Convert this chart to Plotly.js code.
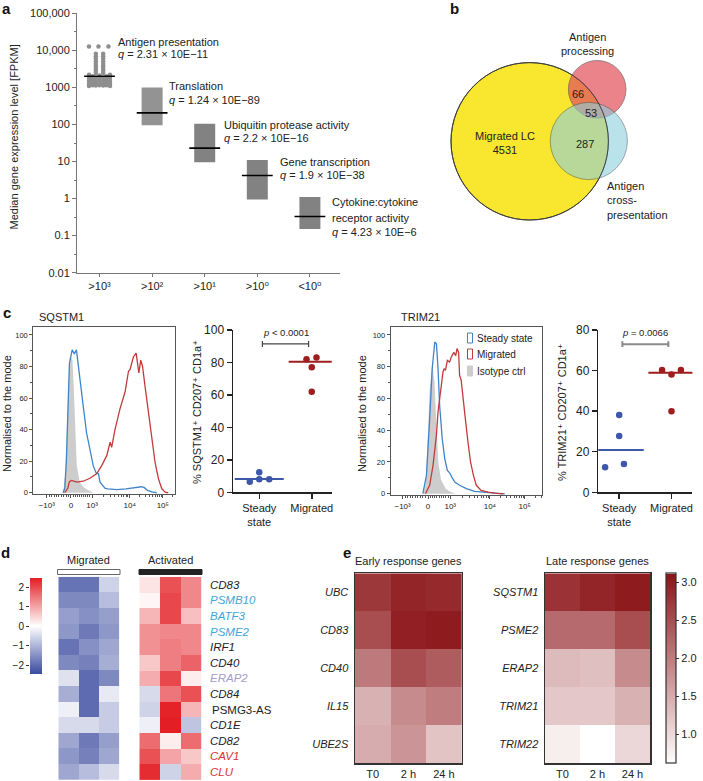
<!DOCTYPE html>
<html><head><meta charset="utf-8">
<script src="https://cdn.plot.ly/plotly-3.0.1.min.js"></script>
<style>html,body{margin:0;padding:0;background:#fff}#chart{width:703px;height:781px}</style>
</head><body><div id="chart"></div>
<script>
// ================= DATA =================
// ---- Panel a ----
const aCategories = ['>10³','>10²','>10¹','>10⁰','<10⁰'];
const aTerms = ['Antigen presentation','Translation','Ubiquitin protease activity','Gene transcription','Cytokine:cytokine<br>receptor activity'];
const aQ = ['2.31 × 10E−11','1.24 × 10E−89','2.2 × 10E−16','1.9 × 10E−38','4.23 × 10E−6'];
const aMedian = [2000, 205, 23, 4.2, 0.33];
const aLow  = [null, 96, 9.5, 0.95, 0.15];
const aHigh = [null, 1000, 105, 11, 1.1];
// individual genes of "Antigen presentation" (jitter index, FPKM)
const apJitter = [-0.2,-0.02,0.17,
  -0.07,-0.07,-0.07,-0.07,-0.07,-0.07,-0.07,-0.07,-0.07,
  0.07,0.07,0.07,0.07,0.07,0.07,0.07,0.07,0.07,
  -0.2,-0.2,-0.2,-0.2,-0.2, -0.13,-0.13,-0.13,-0.13, -0.07,-0.07,-0.07,-0.07,
  0,0,0,0, 0.07,0.07,0.07,0.07, 0.13,0.13,0.13,0.13, 0.2,0.2,0.2,0.2,0.2];
const apValues = [12800,12800,12800,
  8100,6900,5900,5000,4300,3700,3200,2800,2450,
  8100,6900,5900,5000,4300,3700,3200,2800,2450,
  2200,1800,1500,1250,1100, 2000,1600,1350,1150, 1800,1500,1280,1120,
  2100,1700,1400,1150, 1800,1500,1280,1120, 2000,1600,1350,1150, 2200,1800,1500,1250,1100];

// ---- Panel b ----
const vennCounts = {migratedOnly: 4531, migProc: 66, all3: 53, migCross: 287};
const vennSets = ['Migrated LC','Antigen<br>processing','Antigen<br>cross-<br>presentation'];

// ---- Panel c : flow histograms (display-scale units, % of mode) ----
const flowTickVals = [-0.79, 0, 0.69, 1.92, 3.0];
const flowTickText = ['−10³','0','10³','10⁴','10⁵'];
const sqIsoU = [-0.3,-0.24,-0.18,-0.12,-0.06,0.0,0.05,0.09,0.13,0.19,0.29,0.4,0.57,0.75];
const sqIsoY = [0,2,15,50,78,86,84,68,46,17,6.7,3.6,1.5,0];
const sqSteadyU = [-0.25,-0.2,-0.15,-0.1,-0.05,0.04,0.11,0.18,0.23,0.29,0.4,0.51,0.62,0.73,0.82,0.9,0.95,1.11,1.2,1.5,1.8,2.1,2.3,2.4,2.5,2.65,2.8];
const sqSteadyY = [0,3,20,55,82,90.5,88,90.5,82,70,55,38,27.7,17,12.6,12,6.7,2.9,2.5,2,2.5,3,3.8,3.2,1.5,0.5,0];
const sqMigU = [-0.2,-0.1,-0.05,0.02,0.19,0.4,0.62,0.84,1.0,1.17,1.28,1.33,1.44,1.6,1.77,1.88,1.93,1.98,2.04,2.13,2.17,2.22,2.28,2.34,2.42,2.53,2.64,2.75,2.86,2.97,3.08,3.18];
const sqMigY = [0,3,7,7.8,6.7,7.3,9.2,12,17,23.5,32,28.7,40,53,64,77,78,82,86,88.5,82,76,84,80,67.5,50.7,34,19,8.8,2.5,0.4,0];
const trIsoU = [-0.15,-0.08,-0.02,0.05,0.13,0.2,0.27,0.32,0.4,0.55,0.72,0.85];
const trIsoY = [0,5,30,65,82,70,40,20,9,3,1,0];
const trSteadyU = [-0.16,-0.05,0.05,0.13,0.21,0.26,0.31,0.36,0.44,0.52,0.6,0.67,0.74,0.83,0.98,1.19,1.45,1.86,2.17,2.38];
const trSteadyY = [0,11.5,47,79,95.6,94.5,79,55.7,34.7,22,14.7,13.2,10.5,7.4,5.3,3.2,1.5,0.6,0.2,0];
const trMigU = [-0.08,0.05,0.155,0.26,0.31,0.36,0.41,0.465,0.5,0.54,0.6,0.67,0.72,0.8,0.86,0.9,0.95,0.98,1.03,1.09,1.16,1.24,1.32,1.41,1.5,1.65,1.86,2.07,2.33];
const trMigY = [0,5.3,17.9,36.8,51.5,59.9,70.4,76.7,78.8,77.7,84,83,86,89,87,91.4,89,74.6,71.4,58.8,47,32.6,20,11.6,5.3,2.1,1,0.4,0];
const flowLegend = ['Steady state','Migrated','Isotype ctrl'];

// ---- Panel c : percentages ----
const dotGroups = ['Steady<br>state','Migrated'];
const sqSteadyJit = [-0.18, 0, 0, 0.19];
const sqSteadyPct = [6.5, 12.3, 8, 8];
const sqMigJit = [-0.1, 0.09, 0, 0];
const sqMigPct = [82, 83, 77, 62];
const sqMedians = [8.2, 80.5];
const sqP = '<i>p</i> < 0.0001';
const trSteadyJit = [0, 0, -0.27, 0.09];
const trSteadyPct = [38.1, 27.7, 12.3, 13.9];
const trMigJit = [-0.18, 0, 0.18, 0];
const trMigPct = [60.3, 58.1, 60.3, 40];
const trMedians = [20.8, 58.9];
const trP = '<i>p</i> = 0.0066';

// ---- Panel d ----
const dGenes = ['CD83','PSMB10','BATF3','PSME2','IRF1','CD40','ERAP2','CD84','PSMG3-AS','CD1E','CD82','CAV1','CLU'];
const dGeneColors = ['#222','#45a4d8','#45a4d8','#45a4d8','#222','#222','#a89ccb','#222','#222','#222','#222','#d8352f','#d8352f'];
const dGeneItalic = [true,true,true,true,true,true,true,true,false,true,true,true,true];
const dMigrated = [
  [-1.9,-1.9,-0.6],[-1.6,-1.6,-0.9],[-1.3,-1.5,-1.3],[-1.4,-1.8,-1.4],[-1.9,-1.5,-1.2],
  [-1.6,-1.7,-1.1],[-0.4,-2.0,-1.6],[-1.1,-2.0,-0.3],[-0.2,-2.0,-0.7],[-0.5,-0.5,-0.7],
  [-1.2,-1.8,-1.3],[-1.4,-1.7,-1.2],[-1.2,-0.9,-0.5]];
const dActivated = [
  [0.3,1.9,1.3],[0.1,2.0,1.3],[0.8,2.0,0.7],[1.2,1.3,1.3],[1.2,1.4,1.3],
  [0.6,1.4,1.7],[0.9,2.0,0.2],[-0.5,1.5,1.9],[-0.6,2.4,0.8],[-0.2,2.5,-0.8],
  [1.6,0.2,1.6],[1.9,1.0,0.6],[2.3,-0.6,0.9]];
const dScaleTicks = [-2,-1,0,1,2];

// ---- Panel e ----
const eTimes = ['T0','2 h','24 h'];
const eEarlyGenes = ['UBC','CD83','CD40','IL15','UBE2S'];
const eEarly = [[2.75,2.95,2.9],[2.5,3.0,3.05],[2.05,2.5,2.35],[1.45,1.85,2.0],[1.5,1.75,1.25]];
const eLateGenes = ['SQSTM1','PSME2','ERAP2','TRIM21','TRIM22'];
const eLate = [[2.8,2.95,3.05],[2.2,2.2,2.5],[1.35,1.3,1.85],[1.2,1.2,1.45],[0.8,0.62,1.05]];
const eScaleTicks = [1.0,1.5,2.0,2.5,3.0];

// ================= LAYOUT HELPERS =================
const W = 703, H = 781;
const FONT = 'Liberation Sans, Arial, Helvetica, DejaVu Sans, sans-serif';
const TXT = '#222';
const px = x => x / W;
const py = y => 1 - y / H;
const dX = (a, b) => [a / W, b / W];
const dY = (t, b) => [1 - b / H, 1 - t / H];
function ann(text, x, y, o) {
  return Object.assign({text, xref:'paper', yref:'paper', x:px(x), y:py(y), showarrow:false,
    xanchor:'center', yanchor:'middle', font:{family:FONT, size:11, color:TXT}}, o || {});
}
// biexponential-like display transform for minor ticks
function bx(v) {
  if (v <= 0) return v / 1000 * 0.79;
  if (v <= 1000) return v / 1000 * 0.69;
  if (v <= 1e4) return 0.69 + Math.log10(v / 1000) * (1.92 - 0.69);
  return 1.92 + Math.log10(v / 1e4) * (3.0 - 1.92);
}
const flowMinorRaw = [];
for (let k = 1; k <= 9; k++) { flowMinorRaw.push(-k*100, k*100, k*1000, k*10000); }
flowMinorRaw.push(200000, 300000);
const flowMinor = flowMinorRaw.filter(v => ![1000,10000].includes(v)).map(bx);

const traces = [];
const layout = {
  width: W, height: H, margin:{l:0,r:0,t:0,b:0}, paper_bgcolor:'#fff', plot_bgcolor:'rgba(0,0,0,0)',
  showlegend:false, font:{family:FONT, size:11, color:TXT},
  annotations:[], shapes:[]
};

// ================= PANEL a =================
traces.push({type:'scatter', mode:'markers', xaxis:'x', yaxis:'y',
  x: apJitter.map(j => 0 + j), y: apValues,
  marker:{size:4.5, color:'#8e8e8e'}, hoverinfo:'skip'});
for (let i = 1; i < aCategories.length; i++) {
  traces.push({type:'scatter', mode:'lines', xaxis:'x', yaxis:'y',
    x:[i, i], y:[aLow[i], aHigh[i]],
    line:{width:21, color: i === 1 ? '#939393' : '#828282'}, hoverinfo:'skip'});
}
traces.push({type:'scatter', mode:'markers', xaxis:'x', yaxis:'y',
  x: aMedian.map((_, i) => i), y: aMedian,
  marker:{symbol:'line-ew', size:22, line:{width:1.6, color:'#000'}}, hoverinfo:'skip'});
layout.xaxis = {domain:dX(77,340), range:[-0.428,4.572], anchor:'y',
  tickvals:[0,1,2,3,4], ticktext:aCategories, showline:true, linecolor:'#777', linewidth:1,
  ticks:'outside', ticklen:3, tickcolor:'#777', showgrid:false, zeroline:false, tickfont:{size:11}};
layout.yaxis = {domain:dY(13.3,272.7), type:'log', range:[-2,5], anchor:'x',
  tickvals:[0.01,0.1,1,10,100,1000,10000,100000],
  ticktext:['0.01','0.1','1','10','100','1000','10,000','100,000'],
  showline:true, linecolor:'#777', linewidth:1, ticks:'outside', ticklen:4, tickcolor:'#777',
  minor:{tickvals:[0.0316,0.316,3.16,31.6,316,3162,31623], ticks:'outside', ticklen:2, tickcolor:'#777'},
  showgrid:false, zeroline:false, tickfont:{size:11}};
const aLabelPos = [[116,42,54],[166.7,86,100],[221.7,125,137.7],[278.3,162.3,175],[330,202,232]];
aTerms.forEach((t, i) => {
  const lines = t.split('<br>');
  lines.forEach((ln, k) => layout.annotations.push(ann(ln, aLabelPos[i][0], aLabelPos[i][1] + k*15.5, {xanchor:'left'})));
  layout.annotations.push(ann('<i>q</i> = ' + aQ[i], aLabelPos[i][0], aLabelPos[i][2], {xanchor:'left'}));
});
layout.annotations.push(ann('Median gene expression level [FPKM]', 13.5, 137, {textangle:-90}));

// ================= PANEL b (Venn) =================
const vennGeom = [
  {cx:529.7, cy:141.3, r:78.7, fill:'#f8e62f', op:1, line:'#3a3a3a'},
  {cx:597.2, cy:89.3, r:28.8, fill:'#e2545e', op:0.72, line:'#6a4a4a'},
  {cx:588.8, cy:141, r:38.6, fill:'#8ccfde', op:0.6, line:'#4a5a60'}];
vennGeom.forEach(g => layout.shapes.push({type:'circle', xref:'paper', yref:'paper',
  x0:px(g.cx-g.r), x1:px(g.cx+g.r), y0:py(g.cy+g.r), y1:py(g.cy-g.r),
  fillcolor:g.fill, opacity:g.op, line:{color:g.line, width:0.9}}));
layout.shapes.push({type:'circle', xref:'paper', yref:'paper',
  x0:px(529.7-78.7), x1:px(529.7+78.7), y0:py(141.3+78.7), y1:py(141.3-78.7),
  fillcolor:'rgba(0,0,0,0)', line:{color:'#3a3a3a', width:0.9}});
layout.annotations.push(ann(vennSets[0] + '<br>' + vennCounts.migratedOnly, 505, 143));
layout.annotations.push(ann(String(vennCounts.migProc), 578, 94));
layout.annotations.push(ann(String(vennCounts.all3), 590.7, 113));
layout.annotations.push(ann(String(vennCounts.migCross), 585, 144));
layout.annotations.push(ann(vennSets[1], 587, 44.5));
layout.annotations.push(ann(vennSets[2], 605, 200.5, {xanchor:'left', align:'left'}));

// ================= PANEL c =================
function flowAxes(xn, yn, xd, yd, xr) {
  layout['xaxis'+xn] = {domain:xd, range:xr, anchor:'y'+xn, showline:true, mirror:true, linecolor:'#555', linewidth:1,
    tickvals:flowTickVals, ticktext:flowTickText, ticks:'outside', ticklen:3, tickcolor:'#555',
    minor:{tickvals:flowMinor, ticks:'outside', ticklen:2, tickcolor:'#555'},
    tickfont:{size:8}, showgrid:false, zeroline:false};
  layout['yaxis'+yn] = {domain:yd, range:[-0.8,105.2], anchor:'x'+xn, showline:true, mirror:true, linecolor:'#555', linewidth:1,
    tickvals:[0,20,40,60,80,100], ticks:'outside', ticklen:3, tickcolor:'#555',
    minor:{dtick:10, ticks:'outside', ticklen:2, tickcolor:'#555'},
    tickfont:{size:7.5}, showgrid:false, zeroline:false};
}
function flowTraces(xn, isoU, isoY, stU, stY, miU, miY) {
  traces.push({type:'scatter', mode:'lines', xaxis:'x'+xn, yaxis:'y'+xn, x:isoU, y:isoY,
    fill:'tozeroy', fillcolor:'#cdcdcd', line:{width:0, color:'#cdcdcd'}, hoverinfo:'skip'});
  traces.push({type:'scatter', mode:'lines', xaxis:'x'+xn, yaxis:'y'+xn, x:stU, y:stY,
    line:{width:1.3, color:'#3f84c8'}, hoverinfo:'skip'});
  traces.push({type:'scatter', mode:'lines', xaxis:'x'+xn, yaxis:'y'+xn, x:miU, y:miY,
    line:{width:1.3, color:'#c23b3b'}, hoverinfo:'skip'});
}
flowAxes(2, 2, dX(33.3,175), dY(326.7,494), [-1.23,3.4]);
flowTraces(2, sqIsoU, sqIsoY, sqSteadyU, sqSteadyY, sqMigU, sqMigY);
flowAxes(4, 4, dX(390.7,542), dY(326.7,495), [-1.16,3.54]);
flowTraces(4, trIsoU, trIsoY, trSteadyU, trSteadyY, trMigU, trMigY);
layout.annotations.push(ann('SQSTM1', 36.5, 317, {xanchor:'left'}));
layout.annotations.push(ann('TRIM21', 399, 317, {xanchor:'left'}));
layout.annotations.push(ann('Normalised to the mode', 7, 414, {textangle:-90}));
layout.annotations.push(ann('Normalised to the mode', 362, 414, {textangle:-90}));
// legend inside TRIM21 histogram
const legCols = [{line:'#3f84c8', fill:'#fff'}, {line:'#c23b3b', fill:'#fff'}, {line:'#cdcdcd', fill:'#cdcdcd'}];
[338, 354, 371].forEach((yy, k) => {
  layout.shapes.push({type:'rect', xref:'paper', yref:'paper', x0:px(467.5), x1:px(472.5), y0:py(yy+5), y1:py(yy-5),
    fillcolor:legCols[k].fill, line:{color:legCols[k].line, width:1}});
  layout.annotations.push(ann(flowLegend[k], 475.5, yy, {xanchor:'left', font:{family:FONT, size:10, color:TXT}}));
});

function dotPanel(n, xd, yd, xr, yr, ytv, stJ, stP, miJ, miP, med, pTxt, pY, brY, brCol, brW, title, titleX) {
  traces.push({type:'scatter', mode:'markers', xaxis:'x'+n, yaxis:'y'+n, x:stJ.map(j => 0 + j), y:stP,
    marker:{size:6.5, color:'#3d58a8'}, hoverinfo:'skip'});
  traces.push({type:'scatter', mode:'markers', xaxis:'x'+n, yaxis:'y'+n, x:miJ.map(j => 1 + j), y:miP,
    marker:{size:6.5, color:'#9e1d1f'}, hoverinfo:'skip'});
  traces.push({type:'scatter', mode:'markers', xaxis:'x'+n, yaxis:'y'+n, x:[0], y:[med[0]],
    marker:{symbol:'line-ew', size:35, line:{width:2, color:'#3d58a8'}}, hoverinfo:'skip'});
  traces.push({type:'scatter', mode:'markers', xaxis:'x'+n, yaxis:'y'+n, x:[1], y:[med[1]],
    marker:{symbol:'line-ew', size:33, line:{width:2, color:'#9e1d1f'}}, hoverinfo:'skip'});
  layout['xaxis'+n] = {domain:xd, range:xr, anchor:'y'+n, tickvals:[0,1], ticktext:dotGroups,
    showline:true, linecolor:'#222', linewidth:1.5, ticks:'outside', ticklen:5, tickwidth:1.5, tickcolor:'#222',
    showgrid:false, zeroline:false, tickfont:{size:11}};
  layout['yaxis'+n] = {domain:yd, range:yr, anchor:'x'+n, tickvals:ytv,
    showline:true, linecolor:'#222', linewidth:1.5, ticks:'outside', ticklen:5, tickwidth:1.5, tickcolor:'#222',
    showgrid:false, zeroline:false, tickfont:{size:12}};
  const xa = 'x'+n, ya = 'y'+n;
  const tick = (yr[1]-yr[0]) * 0.018;
  layout.shapes.push({type:'line', xref:xa, yref:ya, x0:0.06, x1:0.94, y0:brY, y1:brY, line:{color:brCol, width:brW}});
  layout.shapes.push({type:'line', xref:xa, yref:ya, x0:0.06, x1:0.06, y0:brY-tick, y1:brY+tick, line:{color:brCol, width:brW}});
  layout.shapes.push({type:'line', xref:xa, yref:ya, x0:0.94, x1:0.94, y0:brY-tick, y1:brY+tick, line:{color:brCol, width:brW}});
  layout.annotations.push({text:pTxt, xref:xa, yref:ya, x:0.5, y:pY, showarrow:false, xanchor:'center', yanchor:'middle',
    font:{family:FONT, size:9.5, color:TXT}});
  layout.annotations.push(ann(title, titleX, 412, {textangle:-90}));
}
dotPanel(3, dX(233,331.7), dY(330,492.3), [-0.5,1.38], [0,100], [0,20,40,60,80,100],
  sqSteadyJit, sqSteadyPct, sqMigJit, sqMigPct, sqMedians, sqP, 98.6, 91.4, '#444', 1.2,
  '% SQSTM1⁺ CD207⁺ CD1a⁺', 197);
dotPanel(5, dX(598.3,692.4), dY(330,492.3), [-0.4,1.4], [0,80], [0,20,40,60,80],
  trSteadyJit, trSteadyPct, trMigJit, trMigPct, trMedians, trP, 79, 73, '#8a8a8a', 2,
  '% TRIM21⁺ CD207⁺ CD1a⁺', 562);

// ================= PANEL d =================
layout.coloraxis = {cmin:-2.45, cmax:2.45,
  colorscale:[[0,'#3a4a9f'],[0.5,'#ffffff'],[1,'#e31e24']],
  colorbar:{x:px(30), xanchor:'left', xpad:0, y:py(626.3), yanchor:'middle', ypad:0,
    len:96, lenmode:'pixels', thickness:12, thicknessmode:'pixels',
    showticklabels:false, ticks:'', outlinewidth:0}};
traces.push({type:'heatmap', xaxis:'x6', yaxis:'y6', z:dMigrated, x:[0,1,2], y:dGenes, coloraxis:'coloraxis', hoverinfo:'skip'});
traces.push({type:'heatmap', xaxis:'x7', yaxis:'y7', z:dActivated, x:[0,1,2], y:dGenes, coloraxis:'coloraxis', hoverinfo:'skip'});
layout.xaxis6 = {domain:dX(58.3,119.3), anchor:'y6', visible:false, range:[-0.5,2.5]};
layout.yaxis6 = {domain:dY(576.7,780), anchor:'x6', visible:false, autorange:'reversed'};
layout.xaxis7 = {domain:dX(139.3,201.7), anchor:'y7', visible:false, range:[-0.5,2.5]};
layout.yaxis7 = {domain:dY(576.7,780), anchor:'x7', visible:false, autorange:'reversed'};
dGenes.forEach((g, i) => layout.annotations.push({text:g, xref:'paper', yref:'y7', x:px(dGeneItalic[i] ? 207.5 : 210), y:i,
  showarrow:false, xanchor:'left', yanchor:'middle',
  font:{family:FONT, size:11.5, color:dGeneColors[i], style:dGeneItalic[i] ? 'italic' : 'normal'}}));
// colour-key labels (left of the key)
traces.push({type:'scatter', mode:'markers', xaxis:'x8', yaxis:'y8', x:[0], y:[0], marker:{opacity:0}, hoverinfo:'skip'});
layout.xaxis8 = {domain:dX(30,42), anchor:'y8', visible:false, range:[-1,1]};
layout.yaxis8 = {domain:dY(578.3,674.3), anchor:'x8', range:[-2.45,2.45], tickvals:dScaleTicks,
  ticktext:dScaleTicks.map(v => v < 0 ? '−' + Math.abs(v) : String(v)),
  ticks:'outside', ticklen:3, tickcolor:'#333', showline:false, showgrid:false, zeroline:false, tickfont:{size:10}};
layout.annotations.push(ann('Migrated', 88.8, 560));
layout.annotations.push(ann('Activated', 170.5, 560));
layout.shapes.push({type:'rect', xref:'paper', yref:'paper', x0:px(57.5), x1:px(120), y0:py(574.5), y1:py(569.5),
  fillcolor:'#fff', line:{color:'#666', width:1}});
layout.shapes.push({type:'rect', xref:'paper', yref:'paper', x0:px(139), x1:px(202), y0:py(574.5), y1:py(569.5),
  fillcolor:'#222', line:{color:'#222', width:1}});

// ================= PANEL e =================
layout.coloraxis2 = {cmin:0.62, cmax:3.12,
  colorscale:[[0,'#ffffff'],[1,'#8b1418']],
  colorbar:{x:px(666), xanchor:'left', xpad:0, y:py(668.5), yanchor:'middle', ypad:0,
    len:190, lenmode:'pixels', thickness:10, thicknessmode:'pixels',
    tickvals:eScaleTicks, ticktext:eScaleTicks.map(v => v.toFixed(1)),
    ticks:'outside', ticklen:3, tickcolor:'#333', outlinewidth:1.2, outlinecolor:'#333',
    tickfont:{family:FONT, size:11, color:TXT}}};
function eHeat(n, genes, z, xd) {
  traces.push({type:'heatmap', xaxis:'x'+n, yaxis:'y'+n, z:z, x:eTimes, y:genes, coloraxis:'coloraxis2', hoverinfo:'skip'});
  layout['xaxis'+n] = {domain:xd, anchor:'y'+n, showline:true, mirror:true, linecolor:'#333', linewidth:1.5,
    ticks:'', showgrid:false, zeroline:false, tickfont:{size:11}};
  layout['yaxis'+n] = {domain:dY(573.3,763.3), anchor:'x'+n, autorange:'reversed', showline:true, mirror:true,
    linecolor:'#333', linewidth:1.5, ticks:'', ticklabelstandoff:3,
    showgrid:false, zeroline:false, tickfont:{size:11, style:'italic'}};
}
eHeat(9, eEarlyGenes, eEarly, dX(355,461.7));
eHeat(10, eLateGenes, eLate, dX(545,650));
layout.annotations.push(ann('Early response genes', 408.3, 561));
layout.annotations.push(ann('Late response genes', 597.7, 561));

// ================= panel letters =================
[['a',6.5,8],['b',454,8],['c',6.5,312],['d',5,552],['e',346.5,552]].forEach(p =>
  layout.annotations.push(ann(p[0], p[1], p[2], {font:{family:FONT, size:15, color:'#111', weight:'bold'}})));

Plotly.newPlot('chart', traces, layout, {displayModeBar:false, staticPlot:true});
</script></body></html>
